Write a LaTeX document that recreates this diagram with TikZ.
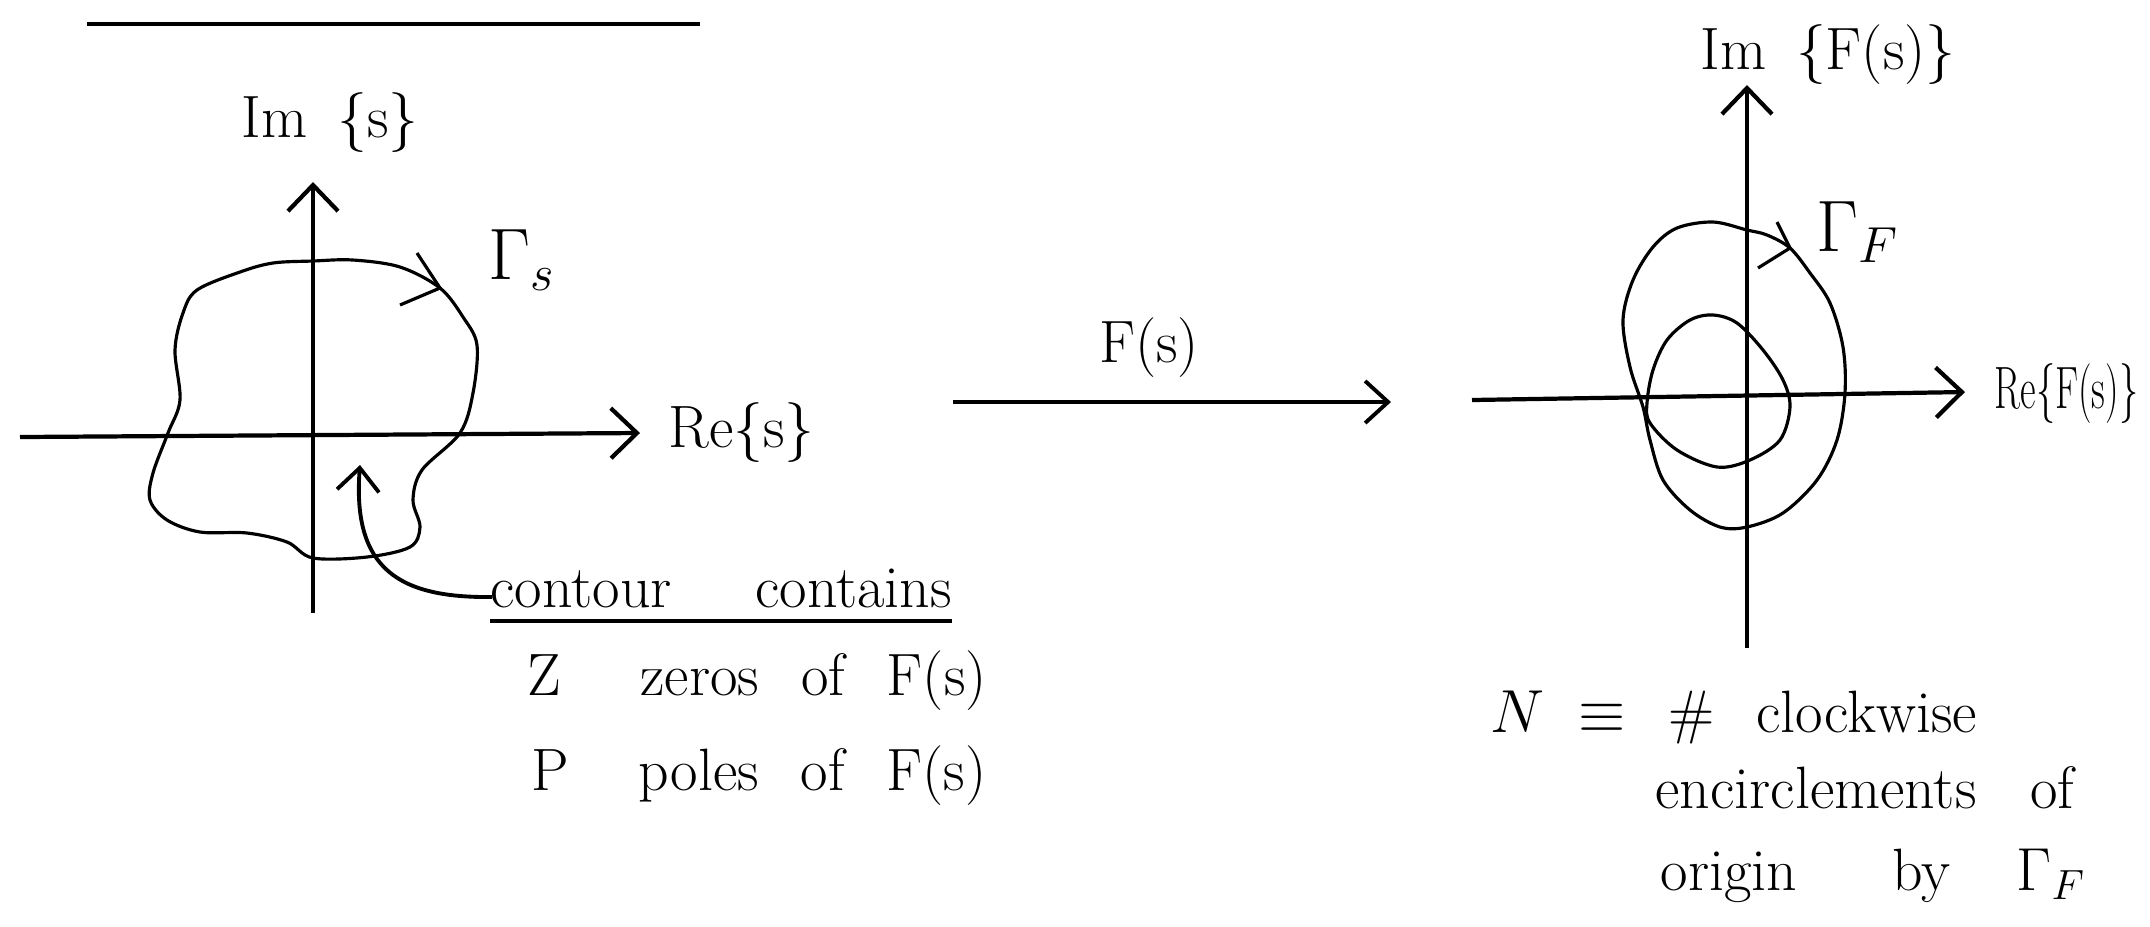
\documentclass[tikz,border=0pt]{standalone}
\usepackage{amsmath,amssymb}
\usepackage{graphicx}
\usepackage{tikz}
\usetikzlibrary{arrows.meta,positioning}

\begin{document}
\begin{tikzpicture}[
    x=0.01cm, y=-0.01cm,
    axis/.style={-{Straight Barb[length=2.6mm,width=5mm]}, line width=1.2pt},
    arrow/.style={-{Straight Barb[length=2.3mm,width=4.2mm]}, line width=1.1pt},
    contour/.style={line width=0.9pt},
    chev/.style={line width=0.9pt},
    lbl/.style={font=\fontsize{17}{20}\selectfont, inner sep=0pt},
    glbl/.style={font=\fontsize{21}{24}\selectfont, inner sep=0pt}
]

\useasboundingbox (0,0) rectangle (2150,926);

\draw[line width=1.2pt] (87,24) -- (700,24);

\coordinate (sleft) at (20,437);
\coordinate (sright) at (640,433);
\coordinate (sbottom) at (313,613);
\coordinate (stop) at (313,182);
\draw[axis] (sleft) -- (sright);
\draw[axis] (sbottom) -- (stop);

\node[lbl] (ims) at (330,123) {Im\enspace\{s\}};
\node[lbl, anchor=west] (res) at (668,433) {Re\{s\}};

\draw[contour] plot[smooth cycle, tension=0.55] coordinates {
    (313,261) (353,260) (400,267) (440,288) (463,317) (477,345) (473,393)
    (460,433) (422,470) (413,500) (420,527) (410,547) (367,557) (313,558)
    (287,542) (247,533) (200,532) (167,520) (150,500) (153,473) (168,433)
    (180,400) (175,350) (183,313) (197,290) (240,272) (273,263)};
\draw[chev] (417,253) -- (440,288) -- (400,305);
\node[glbl] (gs) at (522,260) {$\Gamma_s$};

\coordinate (ctail) at (492,597);
\coordinate (ctip) at (360,465);
\draw[arrow] (ctail) .. controls (400,598) and (352,570) .. (ctip);

\node[lbl, anchor=base west] (cc) at (490,607) {contour\hspace{1.4em}contains};
\draw[line width=1.1pt] ([yshift=-4pt]cc.base west) -- ([yshift=-4pt]cc.base east);

\node[lbl, anchor=base] (zl) at (544,695) {Z};
\node[lbl, anchor=base west] (zr) at (640,695) {zeros\hspace{0.7em}of\hspace{0.7em}F(s)};
\node[lbl, anchor=base] (pl) at (550,790) {P};
\node[lbl, anchor=base west] (pr) at (638,790) {poles\hspace{0.7em}of\hspace{0.7em}F(s)};

\coordinate (mstart) at (953,402);
\coordinate (mend) at (1391,402);
\draw[arrow] (mstart) -- (mend);
\node[lbl] (fs) at (1149,348) {F(s)};

\coordinate (fleft) at (1472,400);
\coordinate (fright) at (1965,392);
\coordinate (fbottom) at (1747,648);
\coordinate (ftop) at (1747,85);
\draw[axis] (fleft) -- (fright);
\draw[axis] (fbottom) -- (ftop);

\node[lbl] (imf) at (1828,55) {Im\enspace\{F(s)\}};
\node[lbl, anchor=west] (ref) at (1994,394) {\scalebox{0.64}[1]{Re\{F(s)\}}};

\draw[contour] plot[smooth cycle, tension=0.55] coordinates {
    (1747,230) (1767,235) (1790,248) (1810,273) (1830,303) (1843,347)
    (1845,393) (1837,440) (1817,480) (1783,513) (1747,527) (1720,527)
    (1690,510) (1663,480) (1650,440) (1643,407) (1630,367) (1623,320)
    (1633,280) (1653,247) (1677,228) (1713,222)};
\draw[contour] plot[smooth cycle, tension=0.55] coordinates {
    (1713,315) (1737,323) (1763,350) (1783,380) (1790,407) (1780,440)
    (1750,460) (1717,467) (1677,450) (1650,423) (1647,403) (1653,370)
    (1667,340) (1690,320)};
\draw[chev] (1777,222) -- (1790,248) -- (1758,268);
\node[glbl] (gf) at (1858,232) {$\Gamma_F$};

\node[lbl, anchor=base west] (neq) at (1490,732) {$N\;\equiv$};
\node[lbl, anchor=base west] (cw) at (1668,732) {\#\hspace{0.7em}clockwise};
\node[lbl, anchor=base west] (enc) at (1655,808) {encirclements\hspace{0.9em}of};
\node[lbl, anchor=base west] (orig) at (1660,890) {origin\hspace{1.6em}by\hspace{1.1em}$\Gamma_F$};

\end{tikzpicture}
\end{document}
